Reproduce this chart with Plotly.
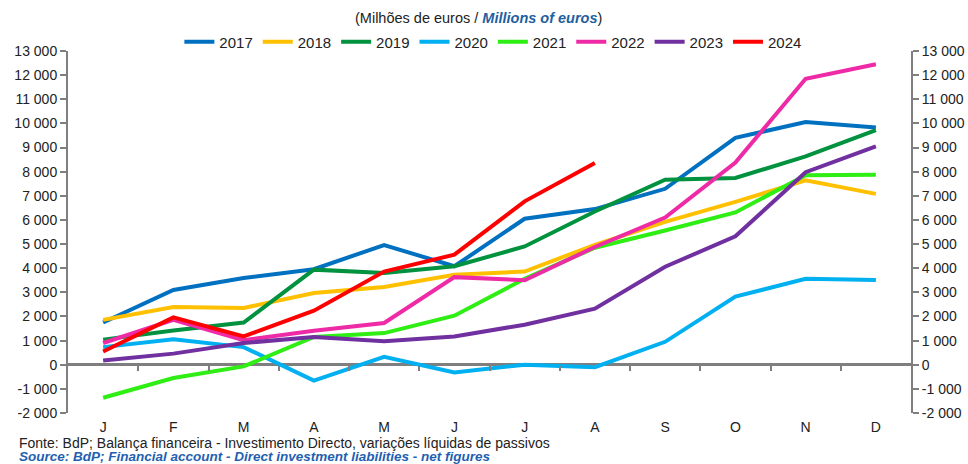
import plotly.graph_objects as go

months = ["J", "F", "M", "A", "M", "J", "J", "A", "S", "O", "N", "D"]
years = ["2017", "2018", "2019", "2020", "2021", "2022", "2023", "2024"]

v2017 = [1750, 3100, 3590, 3960, 4960, 4080, 6050, 6450, 7290, 9400, 10060, 9830]
v2018 = [1860, 2390, 2350, 2970, 3220, 3730, 3860, 4970, 5920, 6750, 7640, 7080]
v2019 = [1040, 1420, 1750, 3940, 3800, 4080, 4900, 6350, 7670, 7740, 8630, 9720]
v2020 = [730, 1060, 730, -660, 330, -320, 0, -100, 950, 2820, 3560, 3510]
v2021 = [-1370, -550, -70, 1150, 1310, 2030, 3560, 4850, 5560, 6310, 7850, 7870]
v2022 = [900, 1860, 1020, 1410, 1730, 3630, 3500, 4880, 6100, 8380, 11850, 12450]
v2023 = [180, 460, 900, 1150, 970, 1170, 1660, 2320, 4060, 5320, 7980, 9050]
v2024 = [550, 1960, 1170, 2240, 3860, 4560, 6770, 8360]

series = [v2017, v2018, v2019, v2020, v2021, v2022, v2023, v2024]
colors = ["#0070C0", "#FFC000", "#00923F", "#00B0F0", "#2EEE14", "#EE2AA6", "#7030A0", "#FF0000"]

ytick_vals = [-2000, -1000, 0, 1000, 2000, 3000, 4000, 5000, 6000, 7000, 8000, 9000, 10000, 11000, 12000, 13000]
ytick_text = ["-2 000", "-1 000", "0", "1 000", "2 000", "3 000", "4 000", "5 000", "6 000",
              "7 000", "8 000", "9 000", "10 000", "11 000", "12 000", "13 000"]

subtitle = "(Milhões de euros / <b><i><span style='color:#1F5FA0'>Millions of euros</span></i></b>)"
source_pt = "Fonte: BdP; Balança financeira - Investimento Directo, variações líquidas de passivos"
source_en = "Source: BdP; Financial account - Direct investment liabilities - net figures"

FONT = "Liberation Sans, Arial, sans-serif"
AX = "#7F7F7F"
TXT = "#222222"

fig = go.Figure()
for name, vals, col in zip(years, series, colors):
    fig.add_trace(go.Scatter(
        x=list(range(len(vals))), y=vals, name=name, mode="lines",
        line=dict(color=col, width=4), hoverinfo="skip"))

# helper invisible traces to activate secondary axes
fig.add_trace(go.Scatter(x=list(range(len(months))), y=v2017, xaxis="x2", yaxis="y",
                         mode="lines", line=dict(width=0, color="rgba(0,0,0,0)"),
                         showlegend=False, hoverinfo="skip"))
fig.add_trace(go.Scatter(x=list(range(len(months))), y=v2017, xaxis="x", yaxis="y2",
                         mode="lines", line=dict(width=0, color="rgba(0,0,0,0)"),
                         showlegend=False, hoverinfo="skip"))

yr = [-2000, 13000]
fig.update_layout(
    width=968, height=464,
    margin=dict(l=68, r=57, t=51, b=51, autoexpand=False),
    paper_bgcolor="white", plot_bgcolor="white",
    font=dict(family=FONT, size=14, color=TXT),
    showlegend=True,
    legend=dict(orientation="h", x=0.504, xanchor="center", y=1.025, yanchor="middle",
                font=dict(size=15, color=TXT), itemwidth=30, tracegroupgap=0,
                bgcolor="rgba(0,0,0,0)"),
    xaxis=dict(range=[-0.5, 11.5], tickmode="array", tickvals=list(range(12)), ticktext=months,
               showgrid=False, zeroline=False, showline=False, ticks="", automargin=False,
               ticklabelstandoff=4, tickfont=dict(size=14, color=TXT)),
    xaxis2=dict(range=[-0.5, 11.5], overlaying="x", anchor="free", position=2/15, side="bottom",
                tickmode="array", tickvals=[i + 0.5 for i in range(11)], ticks="outside",
                ticklen=5, tickwidth=1.5, tickcolor=AX, showticklabels=False, automargin=False,
                showgrid=False, zeroline=False, showline=False),
    yaxis=dict(range=yr, tickmode="array", tickvals=ytick_vals, ticktext=ytick_text,
               showgrid=False, zeroline=True, zerolinecolor=AX, zerolinewidth=2.5,
               showline=True, linecolor=AX, linewidth=2, ticks="outside", ticklen=6,
               tickwidth=1.5, tickcolor=AX, automargin=False, tickfont=dict(size=14, color=TXT)),
    yaxis2=dict(range=yr, overlaying="y", side="right", tickmode="array", tickvals=ytick_vals,
                ticktext=ytick_text, showgrid=False, zeroline=False, showline=True,
                linecolor=AX, linewidth=2, ticks="outside", ticklen=6, tickwidth=1.5,
                tickcolor=AX, automargin=False, tickfont=dict(size=14, color=TXT)),
    annotations=[
        dict(text=subtitle, x=0.487, y=1.091, xref="paper", yref="paper", xanchor="center",
             yanchor="middle", showarrow=False, font=dict(size=14.5, color=TXT)),
        dict(text=source_pt, x=-0.0593, y=-0.0835, xref="paper", yref="paper", xanchor="left",
             yanchor="middle", showarrow=False, borderpad=0, font=dict(size=14, color=TXT)),
        dict(text="<b><i>" + source_en + "</i></b>", x=-0.0593, y=-0.1215, xref="paper",
             yref="paper", xanchor="left", yanchor="middle", showarrow=False, borderpad=0,
             font=dict(size=13.5, color="#1F5FB0")),
    ],
)

fig.write_html("out.html", config={"displayModeBar": False},
               post_script="document.body.style.margin='0';")
